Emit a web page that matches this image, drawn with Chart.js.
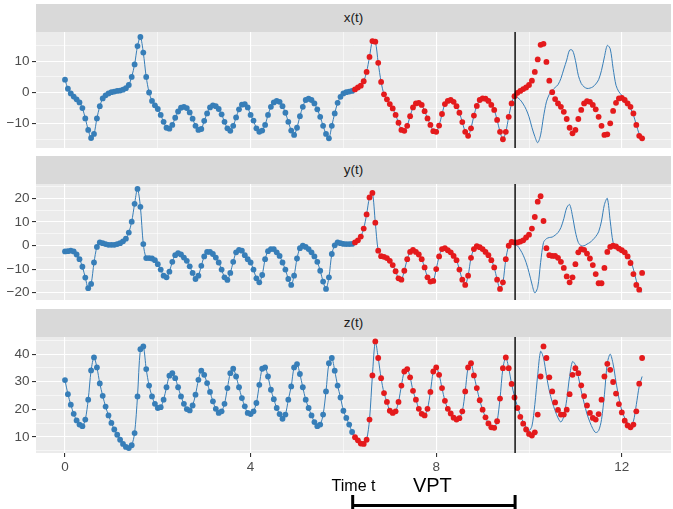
<!DOCTYPE html>
<html>
<head>
<meta charset="utf-8">
<title>Lorenz forecast</title>
<script src="https://cdn.jsdelivr.net/npm/chart.js@4.4.1/dist/chart.umd.min.js"></script>
<style>
  body { margin: 0; background: #ffffff; }
  #page { position: relative; width: 673px; height: 509px; overflow: hidden; font-family: 'Liberation Sans', Arial, sans-serif; }
  .strip { position: absolute; left: 36px; width: 635px; height: 28px; line-height: 28px; background: #D9D9D9; color: #1A1A1A; font-size: 13.5px; text-align: center; }
  canvas { position: absolute; left: 0; }
</style>
</head>
<body>
<div id="page">
  <div class="strip" style="top:4px">x(t)</div>
  <canvas id="chart_x" width="671" height="116" style="top:32px"></canvas>
  <div class="strip" style="top:156px">y(t)</div>
  <canvas id="chart_y" width="671" height="116" style="top:184px"></canvas>
  <div class="strip" style="top:309px">z(t)</div>
  <canvas id="chart_z" width="671" height="172" style="top:337px"></canvas>
</div>
<script>
// sampling step, 100 training samples then 100 test samples
const dt = 0.0625;
const nSamples = 200;
const times = Array.from({ length: nSamples }, (_, i) => i * dt);

// valid prediction time and where the bracket starts
const vpt = 9.7;
const bracketStart = 6.2;
// index where the forecast leaves the test data
const predStart = 155;

const timeTicks = [0, 2, 4, 6, 8, 10, 12];
const xTicks = [-15, -10, -5, 0, 5, 10, 15];
const yTicks = [-20, -15, -10, -5, 0, 5, 10, 15, 20, 25];
const zTicks = [5, 10, 15, 20, 25, 30, 35, 40, 45];

// x(t)
const trainX = [4.1, 1.2, -0.3, -1.3, -2.2, -3.2, -5.0, -8.3, -12.0, -14.6,
  -13.3, -8.3, -4.4, -1.9, -0.9, -0.3, 0.1, 0.3, 0.5, 0.6,
  0.9, 1.4, 2.4, 5.0, 9.0, 14.9, 17.8, 12.8, 5.0, 0.0,
  -2.7, -4.1, -5.3, -7.2, -9.4, -11.3, -11.6, -10.4, -8.1, -6.1,
  -4.9, -4.6, -5.0, -6.4, -8.4, -10.7, -12.0, -11.7, -9.1, -6.7,
  -4.8, -4.1, -4.4, -5.3, -7.0, -9.4, -11.5, -12.3, -10.7, -8.0,
  -5.4, -3.9, -3.7, -4.8, -7.2, -9.0, -11.5, -12.6, -12.2, -10.4,
  -7.2, -4.6, -3.2, -2.7, -3.0, -4.4, -6.5, -9.4, -12.2, -13.6,
  -11.3, -7.6, -4.6, -2.4, -2.0, -2.4, -3.5, -5.4, -7.8, -10.7,
  -13.3, -14.7, -10.7, -6.7, -3.3, -1.4, -0.3, 0.1, 0.3, 0.5];
const testX = [1.0, 1.6, 2.2, 3.6, 6.6, 11.4, 16.5, 16.3, 9.5, 3.4,
  -0.6, -2.2, -3.7, -5.1, -7.2, -9.7, -12.0, -12.3, -10.7, -7.6,
  -4.8, -3.5, -3.3, -4.0, -6.0, -8.3, -10.4, -12.4, -12.6, -10.6,
  -6.9, -3.7, -2.7, -2.4, -3.0, -4.4, -6.5, -9.5, -12.6, -13.9,
  -11.5, -7.4, -4.3, -2.4, -1.9, -2.0, -2.7, -4.0, -5.6, -8.8,
  -12.6, -15.0, -12.6, -7.8, -3.5, -1.2, -0.1, 0.5, 1.1, 1.6,
  2.4, 3.8, 6.6, 10.6, 15.3, 15.6, 9.8, 3.8, 0.1, -2.1,
  -3.5, -4.6, -6.2, -8.5, -11.3, -13.1, -12.0, -8.5, -5.6, -3.5,
  -2.8, -3.0, -4.0, -5.4, -7.8, -10.7, -13.6, -13.4, -9.9, -5.9,
  -3.3, -1.9, -1.7, -2.4, -3.5, -4.6, -6.7, -10.4, -13.9, -14.7];
const predX = [-1.1, -1.6, -2.4, -3.7, -5.4, -7.8, -11.2, -14.1, -16.1, -13.6,
  -7.8, -3.0, -0.6, 0.7, 1.6, 2.5, 4.5, 7.5, 10.4, 13.6,
  13.5, 10.3, 5.5, 2.9, 1.8, 1.3, 1.4, 1.8, 2.7, 4.1,
  7.1, 11.4, 15.1, 14.0, 7.7, 2.3, 0.2, -0.9, -2.1, -3.5,
  -5.1, -7.2, -10.4, -13.3, -15.0];

// y(t)
const trainY = [-2.5, -2.4, -2.2, -2.5, -3.8, -5.8, -9.0, -13.6, -18.1, -16.3,
  -7.2, -0.6, 1.3, 1.0, 0.6, 0.3, 0.3, 0.3, 0.6, 1.0,
  1.8, 2.9, 5.5, 10.1, 17.7, 24.0, 16.4, 0.6, -5.3, -5.3,
  -5.5, -6.2, -7.9, -10.2, -12.8, -13.5, -11.1, -6.9, -4.1, -3.2,
  -3.8, -5.1, -6.5, -8.8, -11.6, -14.2, -12.8, -8.6, -4.6, -2.7,
  -2.7, -3.6, -5.1, -7.2, -10.2, -13.5, -14.6, -11.6, -6.9, -2.9,
  -1.8, -2.2, -4.1, -5.8, -7.2, -10.2, -13.9, -15.6, -12.5, -5.8,
  -2.4, -1.5, -1.5, -2.9, -4.4, -7.2, -10.2, -14.2, -16.7, -12.8,
  -5.5, -1.1, -0.1, -0.6, -1.5, -2.9, -4.6, -6.9, -10.7, -15.3,
  -18.4, -13.5, -3.6, 0.1, 1.3, 1.0, 0.7, 0.6, 0.6, 0.7];
const testY = [1.3, 2.2, 3.8, 7.2, 13.2, 20.4, 22.3, 9.7, -2.2, -4.5,
  -4.8, -5.3, -6.5, -8.3, -10.9, -13.9, -14.5, -10.7, -5.8, -2.7,
  -1.8, -2.7, -3.8, -5.8, -9.3, -13.5, -15.3, -15.0, -10.0, -4.6,
  -1.5, -1.1, -2.0, -2.9, -4.4, -6.2, -10.2, -14.5, -16.7, -12.8,
  -5.2, -1.5, -0.3, -0.7, -1.5, -2.7, -4.1, -6.2, -9.3, -14.5,
  -18.4, -15.6, -5.8, -0.1, 1.5, 1.3, 1.3, 1.7, 2.2, 3.4,
  4.6, 7.2, 12.1, 18.6, 20.9, 10.4, -1.1, -4.1, -4.4, -4.4,
  -5.2, -6.9, -9.5, -13.1, -15.6, -13.5, -7.9, -2.9, -1.5, -1.8,
  -3.4, -5.5, -8.3, -12.1, -16.0, -16.0, -9.5, -2.7, -0.6, -0.1,
  -0.4, -1.3, -2.0, -2.9, -4.6, -7.4, -12.1, -16.7, -18.7, -11.6];
const predY = [0.6, -0.1, -1.8, -4.1, -7.2, -11.4, -16.3, -20.1, -17.7, -7.2,
  1.3, 2.9, 3.4, 3.6, 4.4, 5.5, 7.6, 11.4, 16.0, 17.4,
  12.5, 5.8, 1.3, -0.1, -0.1, 0.6, 1.3, 2.4, 3.8, 5.8,
  10.4, 17.4, 20.0, 10.4, 1.3, -0.6, -1.0, -1.5, -2.4, -4.1,
  -6.2, -10.0, -14.9, -19.1, -19.8];

// z(t)
const trainZ = [30.6, 25.5, 21.7, 18.4, 16.0, 14.5, 13.9, 16.3, 23.5, 34.1,
  38.8, 35.2, 29.4, 24.9, 21.0, 17.8, 15.1, 12.7, 10.8, 9.0,
  7.5, 6.4, 6.0, 7.0, 11.4, 24.7, 41.8, 42.8, 34.6, 28.6,
  24.7, 22.0, 20.5, 20.8, 23.5, 28.0, 32.2, 33.1, 31.3, 28.0,
  24.7, 22.0, 20.1, 19.6, 21.4, 25.3, 30.7, 34.0, 32.5, 29.5,
  26.3, 22.9, 20.2, 18.7, 19.3, 22.0, 27.7, 33.1, 34.7, 31.9,
  28.0, 24.1, 21.1, 18.7, 18.3, 19.3, 22.3, 28.9, 34.7, 35.2,
  31.9, 27.1, 23.7, 20.5, 18.3, 16.6, 18.1, 23.5, 28.3, 35.2,
  36.4, 32.8, 28.0, 23.5, 20.5, 17.8, 15.4, 13.9, 14.5, 18.1,
  26.5, 36.7, 38.6, 34.0, 28.6, 24.3, 19.5, 16.9, 14.5, 11.8];
const testZ = [9.9, 8.8, 7.6, 7.5, 9.0, 16.3, 32.3, 44.6, 38.6, 31.3,
  25.9, 22.7, 19.5, 18.7, 19.3, 22.7, 28.6, 33.7, 34.6, 31.6,
  26.7, 23.5, 20.2, 18.4, 17.8, 20.2, 26.3, 33.7, 35.2, 32.5,
  27.7, 23.1, 20.2, 18.5, 17.0, 16.3, 16.8, 19.3, 26.5, 35.2,
  36.7, 32.3, 27.7, 23.3, 19.9, 17.1, 14.9, 13.5, 13.3, 15.7,
  23.9, 34.9, 38.8, 34.9, 29.2, 24.3, 20.5, 17.3, 14.8, 12.7,
  11.1, 10.5, 11.7, 18.1, 31.9, 42.8, 38.6, 31.6, 26.5, 22.5,
  19.8, 18.1, 18.1, 19.9, 25.5, 32.5, 34.9, 33.1, 28.7, 24.8,
  21.4, 18.7, 16.9, 16.3, 18.3, 23.5, 31.9, 36.5, 34.3, 29.9,
  25.7, 21.9, 18.9, 15.9, 14.2, 13.5, 14.5, 19.3, 29.3, 38.6];
const predZ = [24.7, 21.1, 17.8, 15.4, 13.5, 12.3, 13.9, 21.7, 32.5, 41.0,
  38.6, 32.3, 26.7, 22.7, 19.5, 16.9, 15.4, 17.5, 23.5, 31.9,
  37.3, 36.1, 31.9, 26.7, 22.3, 18.3, 15.4, 13.0, 11.6, 12.3,
  16.3, 25.3, 36.7, 40.0, 36.4, 29.9, 24.1, 19.5, 16.9, 15.1,
  14.2, 15.7, 21.7, 28.3, 31.9];

const blue = '#377EB8';
const red = '#E41A1C';

Chart.defaults.font.family = "'Liberation Sans', Arial, sans-serif";

function pontos(vals, offset) {
    return vals.map((v, k) => ({ x: times[k + offset], y: v }));
}

function rotulo(v) {
    return v < 0 ? '\u2212' + Math.abs(v) : String(v);
}

// grey panel background
const fundo = {
    id: 'fundo',
    beforeDraw(chart) {
        const a = chart.chartArea;
        const c = chart.ctx;
        c.save();
        c.fillStyle = '#EBEBEB';
        c.fillRect(a.left, a.top, a.right - a.left, a.bottom - a.top);
        c.restore();
    }
};

// black line at the valid prediction time
const linhaVpt = {
    id: 'linhaVpt',
    afterDatasetsDraw(chart) {
        const a = chart.chartArea;
        const x = chart.scales.x.getPixelForValue(vpt);
        const c = chart.ctx;
        c.save();
        c.strokeStyle = '#000000';
        c.lineWidth = 1.4;
        c.beginPath();
        c.moveTo(x, a.top);
        c.lineTo(x, a.bottom);
        c.stroke();
        c.restore();
    }
};

// VPT bracket under the time axis
const chave = {
    id: 'chave',
    afterDraw(chart) {
        const s = chart.scales.x;
        const x1 = s.getPixelForValue(bracketStart);
        const x2 = s.getPixelForValue(vpt);
        const h = chart.height;
        const c = chart.ctx;
        c.save();
        c.strokeStyle = '#000000';
        c.lineWidth = 3;
        c.beginPath();
        c.moveTo(x1, h - 3.5);
        c.lineTo(x2, h - 3.5);
        c.moveTo(x1, h - 14);
        c.lineTo(x1, h);
        c.moveTo(x2, h - 14);
        c.lineTo(x2, h);
        c.stroke();
        c.fillStyle = '#000000';
        c.font = "20px 'Liberation Sans', Arial, sans-serif";
        c.textAlign = 'center';
        c.textBaseline = 'alphabetic';
        c.fillText('VPT', (x1 + x2) / 2 - 1.5, h - 17.3);
        c.restore();
    }
};

function painel(id, train, test, pred, yMin, yMax, yTicks, eixo) {
    const linha = train.concat(test.slice(0, predStart - train.length), pred);
    const plugins = [fundo, linhaVpt];
    if (eixo) plugins.push(chave);

    return new Chart(document.getElementById(id), {
        type: 'scatter',
        data: {
            datasets: [{
                data: pontos(test, train.length),
                backgroundColor: red,
                pointRadius: 2.9,
                pointBorderWidth: 0
            }, {
                data: pontos(train, 0),
                backgroundColor: blue,
                pointRadius: 2.9,
                pointBorderWidth: 0
            }, {
                data: pontos(linha, 0),
                showLine: true,
                borderColor: blue,
                borderWidth: 1,
                pointRadius: 0,
                tension: 0.3
            }]
        },
        options: {
            responsive: false,
            animation: false,
            events: [],
            layout: { padding: 0, autoPadding: false },
            plugins: { legend: { display: false }, tooltip: { enabled: false } },
            scales: {
                x: {
                    type: 'linear',
                    min: -0.625,
                    max: 13.06,
                    afterBuildTicks: s => { s.ticks = timeTicks.map(v => ({ value: v })); },
                    afterFit: s => { s.height = eixo ? 56 : 0; s.paddingLeft = 0; s.paddingRight = 0; },
                    border: { display: false },
                    grid: {
                        color: '#FFFFFF',
                        lineWidth: c => (c.tick && c.tick.value % 4 === 0) ? 1.1 : 0.55,
                        drawTicks: eixo,
                        tickLength: 4,
                        tickWidth: 1.1,
                        tickColor: c => (c.tick && c.tick.value % 4 === 0) ? '#333333' : 'rgba(0,0,0,0)'
                    },
                    ticks: {
                        display: eixo,
                        autoSkip: false,
                        maxRotation: 0,
                        padding: 2,
                        color: '#4D4D4D',
                        font: { size: 13.5 },
                        callback: v => v % 4 === 0 ? rotulo(v) : ''
                    },
                    title: {
                        display: eixo,
                        text: 'Time t',
                        color: '#000000',
                        font: { size: 16 },
                        padding: { top: 0, bottom: 13.3 }
                    }
                },
                y: {
                    min: yMin,
                    max: yMax,
                    afterBuildTicks: s => { s.ticks = yTicks.map(v => ({ value: v })); },
                    afterFit: s => { s.width = 36; s.paddingTop = 0; s.paddingBottom = 0; },
                    border: { display: false },
                    grid: {
                        color: '#FFFFFF',
                        lineWidth: c => (c.tick && c.tick.value % 10 === 0) ? 1.1 : 0.55,
                        tickLength: 4,
                        tickWidth: 1.1,
                        tickColor: c => (c.tick && c.tick.value % 10 === 0) ? '#333333' : 'rgba(0,0,0,0)'
                    },
                    ticks: {
                        autoSkip: false,
                        padding: 2.5,
                        color: '#4D4D4D',
                        font: { size: 13.5 },
                        callback: v => v % 10 === 0 ? rotulo(v) : ''
                    }
                }
            }
        },
        plugins: plugins
    });
}

const grafico_x = painel('chart_x', trainX, testX, predX, -17.8, 19.4, xTicks, false);
const grafico_y = painel('chart_y', trainY, testY, predY, -23.1, 26.1, yTicks, false);
const grafico_z = painel('chart_z', trainZ, testZ, predZ, 4.2, 46.2, zTicks, true);
</script>
</body>
</html>
